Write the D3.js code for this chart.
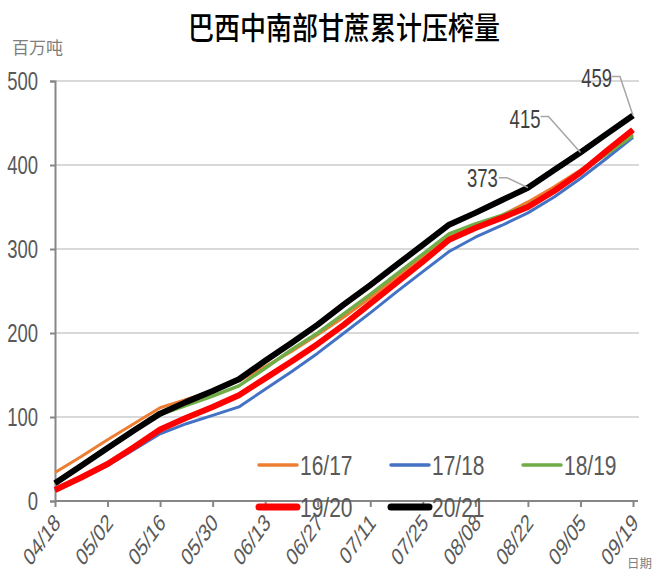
<!DOCTYPE html>
<html>
<head>
  <meta charset="UTF-8">
  <title>巴西中南部甘蔗累计压榨量</title>
  <script src="https://d3js.org/d3.v7.min.js"></script>
  <style>
    body { margin: 0; background: #fff; }
    svg { display: block; }
    text { font-family: "Liberation Sans", Arial, sans-serif; }
    .cjk { font-family: "Noto Sans CJK SC", sans-serif; }
  </style>
</head>
<body>
  <svg id="chart" width="652" height="579"></svg>

  <script>
    // 周度日期（横轴类别）
    var weeks = ["04/18", "04/25", "05/02", "05/09", "05/16", "05/23", "05/30", "06/06",
                 "06/13", "06/20", "06/27", "07/04", "07/11", "07/18", "07/25", "08/01",
                 "08/08", "08/15", "08/22", "08/29", "09/05", "09/12", "09/19"];

    var seasons = ["16/17", "17/18", "18/19", "19/20", "20/21"];

    // 累计压榨量，百万吨
    var s1617 = [34, 53, 73, 92, 111, 121, 131, 143, 160, 178, 198, 219, 242, 266, 290, 314, 327, 340, 356, 374, 394, 415, 437];
    var s1718 = [12, 27, 42, 61, 80, 92, 102, 112, 133, 154, 176, 200, 224, 249, 273, 297, 314, 328, 343, 362, 384, 408, 433];
    var s1819 = [20, 41, 62, 83, 103, 114, 125, 137, 158, 180, 200, 223, 246, 270, 294, 318, 330, 340, 352, 370, 392, 413, 435];
    var s1920 = [13, 28, 44, 64, 85, 99, 112, 126, 146, 166, 187, 210, 235, 260, 285, 311, 325, 337, 350, 369, 391, 417, 442];
    var s2021 = [21, 42, 63, 84, 104, 118, 131, 145, 167, 188, 210, 234, 257, 281, 305, 329, 343, 358, 373, 394, 415, 437, 459];

    var yTicks = [0, 100, 200, 300, 400, 500];
    // 标注 20/21 的最后三个点
    var labelWeeks = ["08/22", "09/05", "09/19"];

    var allSeries = [s1617, s1718, s1819, s1920, s2021];
    var colors = ["#ED7D31", "#4472C4", "#70AD47", "#FF0000", "#000000"];
    var widths = [3, 3, 3.5, 6, 6];
    var S = 1.4; // 原图文字纵向拉伸

    var svg = d3.select("#chart");

    var x = d3.scalePoint().domain(weeks).range([55, 633]);
    var y = d3.scaleLinear().domain([0, 500]).range([501, 81]);

    // 网格线
    svg.append("g")
       .selectAll("line")
       .data(yTicks.slice(1))
       .enter()
       .append("line")
       .attr("x1", 55).attr("x2", 639)
       .attr("y1", function(d) { return y(d); })
       .attr("y2", function(d) { return y(d); })
       .attr("stroke", "#d9d9d9")
       .attr("stroke-width", 2);

    // 纵轴
    var yAxis = svg.append("g")
       .attr("transform", "translate(55,0)")
       .call(d3.axisLeft(y).tickValues(yTicks).tickSize(5).tickPadding(12));
    yAxis.select(".domain").attr("stroke", "#868686").attr("stroke-width", 2);
    yAxis.selectAll(".tick line").attr("stroke", "#868686").attr("stroke-width", 2);
    yAxis.selectAll(".tick text")
         .attr("font-size", 18.5)
         .attr("font-family", "Liberation Sans, Arial, sans-serif")
         .attr("fill", "#595959")
         .attr("transform", "scale(1," + S + ")");

    // 横轴
    var xAxis = svg.append("g")
       .attr("transform", "translate(0,501)")
       .call(d3.axisBottom(x)
               .tickValues(weeks.filter(function(d, i) { return i % 2 === 0; }))
               .tickSize(6)
               .tickSizeOuter(0));
    xAxis.select(".domain").attr("d", "M55,0H638").attr("stroke", "#868686").attr("stroke-width", 2);
    xAxis.selectAll(".tick line").attr("stroke", "#868686").attr("stroke-width", 2);
    xAxis.selectAll(".tick text")
         .attr("font-size", 17.5)
         .attr("font-family", "Liberation Sans, Arial, sans-serif")
         .attr("fill", "#595959")
         .attr("text-anchor", "end")
         .attr("x", 0).attr("y", 0).attr("dy", 0)
         .attr("transform", "translate(6,23) scale(1," + S + ") rotate(-45)");

    // 折线
    var line = d3.line()
                 .x(function(d, i) { return x(weeks[i]); })
                 .y(function(d) { return y(d); });

    svg.append("g")
       .selectAll("path")
       .data(allSeries)
       .enter()
       .append("path")
       .attr("d", line)
       .attr("fill", "none")
       .attr("stroke", function(d, i) { return colors[i]; })
       .attr("stroke-width", function(d, i) { return widths[i]; })
       .attr("stroke-linejoin", "round");

    // 数据标注
    var annOffset = { "08/22": [-30, -11, -21, -10], "09/05": [-40, -34, -32, -36], "09/19": [-21, -38, -13, -39] };
    labelWeeks.forEach(function(w) {
      var i = weeks.indexOf(w);
      var px = x(w), py = y(s2021[i]);
      var o = annOffset[w];
      svg.append("path")
         .attr("d", "M" + (px + o[2] - 8) + "," + (py + o[3]) + "H" + (px + o[2]) + "L" + px + "," + py)
         .attr("fill", "none")
         .attr("stroke", "#a6a6a6")
         .attr("stroke-width", 1.5);
      svg.append("text")
         .attr("text-anchor", "end")
         .attr("font-size", 18.5)
         .attr("fill", "#404040")
         .attr("transform", "translate(" + (px + o[0]) + "," + (py + o[1] + 10) + ") scale(1," + S + ")")
         .text(s2021[i]);
    });

    // 图例
    var legendPos = [[258, 465], [390, 465], [522, 465], [258, 507], [390, 507]];
    var legendWidths = [3.5, 3.5, 3.5, 7, 7];
    var legend = svg.append("g")
       .selectAll("g")
       .data(seasons)
       .enter()
       .append("g")
       .attr("transform", function(d, i) { return "translate(" + legendPos[i][0] + "," + legendPos[i][1] + ")"; });
    legend.append("line")
          .attr("x1", 1).attr("x2", 39)
          .attr("stroke", function(d, i) { return colors[i]; })
          .attr("stroke-width", function(d, i) { return legendWidths[i]; })
          .attr("stroke-linecap", "round");
    legend.append("text")
          .attr("font-size", 21)
          .attr("fill", "#595959")
          .attr("transform", "translate(42,10) scale(1,1.35)")
          .text(function(d) { return d; });

    // 标题与单位
    svg.append("text")
       .attr("class", "cjk")
       .attr("text-anchor", "middle")
       .attr("font-size", 26)
       .attr("font-weight", 500)
       .attr("fill", "#000")
       .attr("transform", "translate(344,39) scale(1,1.18)")
       .text("巴西中南部甘蔗累计压榨量");

    svg.append("text")
       .attr("class", "cjk")
       .attr("font-size", 17)
       .attr("fill", "#7f7f7f")
       .attr("x", 12).attr("y", 54)
       .text("百万吨");

    svg.append("text")
       .attr("class", "cjk")
       .attr("font-size", 12.5)
       .attr("fill", "#7f7f7f")
       .attr("x", 627).attr("y", 568)
       .text("日期");
  </script>
</body>
</html>
